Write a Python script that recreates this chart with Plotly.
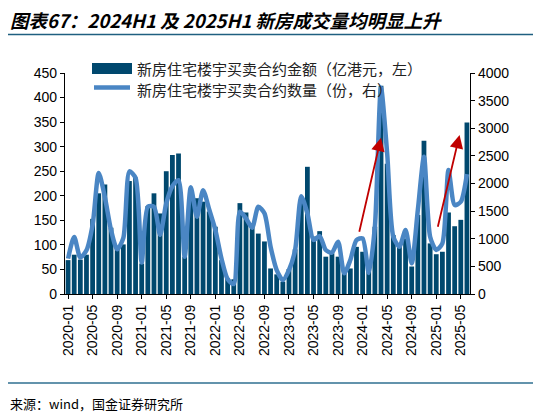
import plotly.graph_objects as go

# the page shows the figure with an 8px body margin; lay out in reference pixels and shift
OFF = 8
W, H = 541 - OFF, 416 - OFF
L, R, T, B = 65 - OFF, 470 - OFF, 73 - OFF, 294 - OFF  # plot area in figure pixels

months = [f"{y}-{m:02d}" for y in range(2020, 2026) for m in range(1, 13)][:66]

amount = [69, 80, 70, 80, 153, 205, 223, 135, 96, 101, 230, 237,
          62, 179, 205, 164, 250, 283, 286, 76, 198, 195, 188, 168,
          137, 69, 32, 30, 185, 166, 140, 123, 107, 52, 40, 25,
          51, 91, 188, 259, 117, 128, 76, 83, 76, 49, 52, 96,
          86, 65, 137, 424, 265, 120, 103, 113, 56, 161, 312, 103,
          81, 86, 166, 138, 151, 349]

count = [640, 1030, 660, 790, 1250, 2190, 1750, 1160, 810, 1010, 2220, 2100,
         570, 1580, 1580, 1070, 1640, 1950, 2060, 675, 1930, 1400, 1880, 1530,
         1160, 640, 270, 180, 1490, 1370, 1200, 1580, 1460, 856, 434, 253,
         434, 796, 1770, 1460, 977, 1049, 796, 748, 947, 374, 615, 977,
         1007, 380, 1218, 3730, 2545, 1037, 856, 1158, 555, 1520, 2485, 1037,
         796, 917, 2244, 1610, 1670, 2171]

tick_labels = months[::4]

# trend arrows: (tail index, tail value, head index, head value) on right axis
arrows = [(47.4, 1100, 51.0, 2830), (60.2, 1190, 63.8, 2880)]

name_bar = "新房住宅楼宇买卖合约金额（亿港元，左）"
name_line = "新房住宅楼宇买卖合约数量（份，右）"
title = "图表67：2024H1 及 2025H1 新房成交量均明显上升"
source = "来源：wind，国金证券研究所"

BAR_C = "#00486E"
LINE_C = "#4A86C4"
RULE_C = "#1F5F80"


def px(x):
    """reference pixel x -> paper x"""
    return (x - OFF - L) / (R - L)


def py(y):
    """reference pixel y -> paper y"""
    return (B - (y - OFF)) / (B - T)


fig = go.Figure()
fig.add_trace(go.Bar(x=months, y=amount, name=name_bar, marker_color=BAR_C,
                     marker_line_width=0, yaxis="y"))
fig.add_trace(go.Scatter(x=months, y=count, name=name_line, mode="lines",
                         line=dict(color=LINE_C, width=4.5, shape="spline", smoothing=0.7),
                         yaxis="y2"))

tickfont = dict(family="Liberation Sans, Arial", size=14, color="#000000")

fig.update_layout(
    width=W, height=H,
    margin=dict(l=L, r=W - R, t=T, b=H - B, pad=0),
    paper_bgcolor="white", plot_bgcolor="white",
    showlegend=False,
    bargap=0.22,
    xaxis=dict(type="category", tickmode="array", tickvals=tick_labels, ticktext=tick_labels,
               tickangle=-90, tickfont=tickfont, showline=True, linecolor="#000000",
               linewidth=1.2, ticks="outside", ticklen=4, tickcolor="#000000",
               showgrid=False, zeroline=False),
    yaxis=dict(range=[0, 450], dtick=50, tickfont=tickfont, showline=True,
               linecolor="#000000", linewidth=1.2, ticks="outside", ticklen=4,
               tickcolor="#000000", showgrid=False, zeroline=False),
    yaxis2=dict(range=[0, 4000], dtick=500, overlaying="y", side="right",
                tickfont=tickfont, showline=True, linecolor="#000000", linewidth=1.2,
                ticks="outside", ticklen=4, tickcolor="#000000", showgrid=False,
                zeroline=False),
)

ann = []
for (tx, ty, hx, hy) in arrows:
    ann.append(dict(x=hx, y=hy, xref="x", yref="y2", ax=tx, ay=ty, axref="x", ayref="y2",
                    text="", showarrow=True, arrowhead=2, arrowsize=1.5, arrowwidth=1.8,
                    arrowcolor="#C00000", standoff=0, startstandoff=0))

ann.append(dict(x=px(8), y=py(20), xref="paper", yref="paper", xanchor="left",
                yanchor="middle", showarrow=False, text="<b><i>" + title + "</i></b>",
                font=dict(family="Noto Sans CJK SC", size=18.5, color="#000000")))
ann.append(dict(x=px(8), y=py(403), xref="paper", yref="paper", xanchor="left",
                yanchor="middle", showarrow=False, text=source,
                font=dict(family="Noto Sans CJK SC", size=13, color="#000000")))
ann.append(dict(x=px(135), y=py(68), xref="paper", yref="paper", xanchor="left",
                yanchor="middle", showarrow=False, text=name_bar,
                font=dict(family="Noto Sans CJK SC", size=15, color="#222222")))
ann.append(dict(x=px(135), y=py(89), xref="paper", yref="paper", xanchor="left",
                yanchor="middle", showarrow=False, text=name_line,
                font=dict(family="Noto Sans CJK SC", size=15, color="#222222")))

shapes = [
    dict(type="rect", xref="paper", yref="paper", x0=px(92), x1=px(132), y0=py(74), y1=py(63),
         fillcolor=BAR_C, line_width=0),
    dict(type="line", xref="paper", yref="paper", x0=px(94), x1=px(130), y0=py(87.5), y1=py(87.5),
         line=dict(color=LINE_C, width=4.5)),
    dict(type="line", xref="paper", yref="paper", x0=px(8), x1=px(541), y0=py(34.5), y1=py(34.5),
         line=dict(color=RULE_C, width=1.5)),
    dict(type="line", xref="paper", yref="paper", x0=px(8), x1=px(541), y0=py(383), y1=py(383),
         line=dict(color="#2F6F90", width=1.5)),
]

fig.update_layout(annotations=ann, shapes=shapes)
fig.write_html("out.html")
